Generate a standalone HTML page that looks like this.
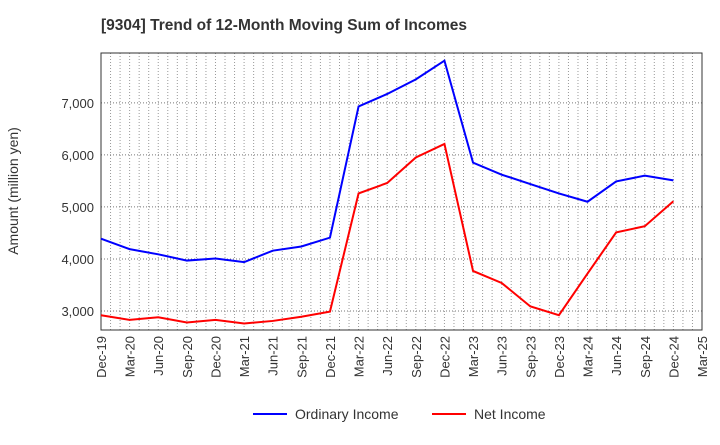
<!DOCTYPE html>
<html><head><meta charset="utf-8"><style>
body{margin:0;background:#fff;font-family:"Liberation Sans",sans-serif}
</style></head><body>
<svg id="chart" width="720" height="440" xmlns="http://www.w3.org/2000/svg">
<text x="101" y="30" font-size="15.5" font-weight="bold" fill="#333">[9304]  Trend of 12-Month Moving Sum of Incomes</text>
<g id="grid"></g>
<g id="axes"></g>
<g id="series"></g>
<text transform="translate(18,191) rotate(-90)" text-anchor="middle" font-size="14" fill="#333">Amount (million yen)</text>
<g>
<g><line x1="253" y1="414" x2="287" y2="414" stroke="#0000ff" stroke-width="2"/><text x="295" y="419" font-size="14" fill="#333">Ordinary Income</text></g>
<g><line x1="432" y1="414" x2="466" y2="414" stroke="#ff0000" stroke-width="2"/><text x="474" y="419" font-size="14" fill="#333">Net Income</text></g>
</g>
</svg>
<script>
const categories=["Dec-19","Mar-20","Jun-20","Sep-20","Dec-20","Mar-21","Jun-21","Sep-21","Dec-21","Mar-22","Jun-22","Sep-22","Dec-22","Mar-23","Jun-23","Sep-23","Dec-23","Mar-24","Jun-24","Sep-24","Dec-24","Mar-25"];
const ordinaryIncome=[4390,4190,4090,3970,4010,3940,4160,4240,4410,6930,7170,7450,7810,5850,5620,5440,5260,5100,5490,5600,5510];
const netIncome=[2920,2830,2880,2780,2830,2760,2810,2890,2990,5260,5460,5950,6210,3770,3540,3090,2920,3720,4510,4630,5110];
const yTicks=[3000,4000,5000,6000,7000];
const yTickLabels=["3,000","4,000","5,000","6,000","7,000"];
const L=101,R=702,T=53,B=330,yMin=2636,yMax=7957;
const NS="http://www.w3.org/2000/svg";
const x=i=>L+(R-L)*i/(categories.length-1);
const y=v=>B-(v-yMin)/(yMax-yMin)*(B-T);
function mk(tag,attrs,parent){const e=document.createElementNS(NS,tag);for(const k in attrs)e.setAttribute(k,attrs[k]);parent.appendChild(e);return e;}
const grid=document.getElementById('grid'),axes=document.getElementById('axes'),series=document.getElementById('series');
const nMonths=(categories.length-1)*3;
for(let m=1;m<nMonths;m++){const xx=L+(R-L)*m/nMonths;
const gl=mk('line',{x1:xx,x2:xx,y1:T,y2:B,stroke:'#999','stroke-width':1,'stroke-dasharray':'1,2'},grid);

}
yTicks.forEach((v,i)=>{const yy=y(v);
const gl=mk('line',{x1:L,x2:R,y1:yy,y2:yy,stroke:'#777','stroke-width':1,'stroke-dasharray':'1,2'},grid);


const t=mk('text',{x:L-7,y:yy+5,'text-anchor':'end','font-size':13,fill:'#333'},axes);t.textContent=yTickLabels[i];

});
const fr=mk('rect',{x:L,y:T,width:R-L,height:B-T,fill:'none',stroke:'#333','stroke-width':1},axes);


categories.forEach((c,i)=>{const t=mk('text',{transform:`translate(${x(i)+5},${B+6}) rotate(-90)`,'text-anchor':'end','font-size':13,fill:'#333'},axes);t.textContent=c;

});
function line(data,color,name){const p=mk('polyline',{points:data.map((v,i)=>x(i)+','+y(v)).join(' '),fill:'none',stroke:color,'stroke-width':2},series);

}
line(ordinaryIncome,'#0000ff','ordinary-income-line');
line(netIncome,'#ff0000','net-income-line');
</script>
</body></html>
